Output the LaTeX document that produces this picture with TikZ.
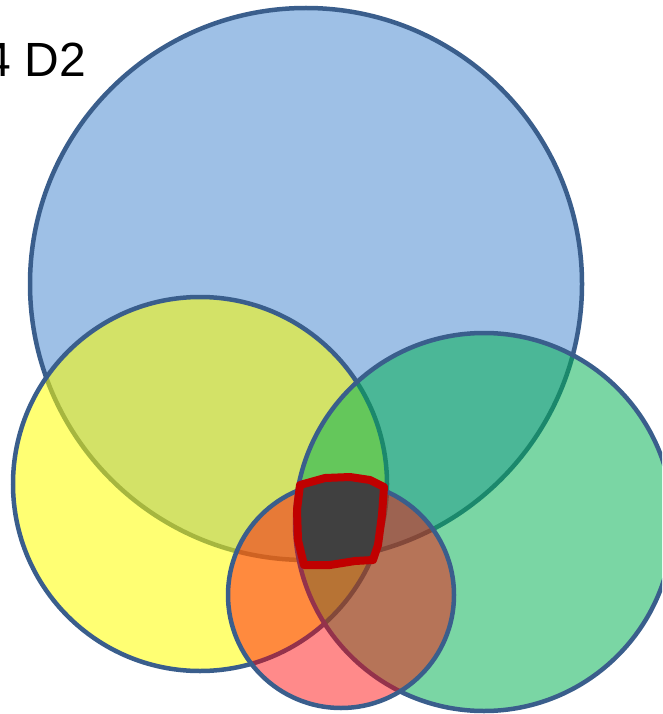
\documentclass[tikz,border=0pt]{standalone}
\usepackage{fontspec}
\setmainfont{Liberation Sans}
\definecolor{vennedge}{RGB}{58,94,140}
\definecolor{vennblue}{RGB}{158,192,230}
\definecolor{vennyellow}{RGB}{255,255,0}
\definecolor{venngreen}{RGB}{0,176,80}
\definecolor{vennred}{RGB}{255,0,0}
\definecolor{coredark}{RGB}{64,64,64}
\definecolor{coreedge}{RGB}{192,0,0}
\begin{document}
\begin{tikzpicture}[x=1pt,y=-1pt,
  venn/.style={circle, draw=vennedge, line width=4.5pt, inner sep=0pt, outer sep=0pt},
  corestyle/.style={fill=coredark, draw=coreedge, line width=8pt, line join=round},
  label/.style={anchor=base west, inner sep=0pt, font=\fontsize{48}{58}\selectfont}]
\useasboundingbox (0,0) rectangle (662,714);
\clip (0,0) rectangle (662,714);
\node[venn, fill=vennblue, minimum size=552pt] (blue) at (306,284) {};
\node[venn, fill=vennyellow, fill opacity=0.55, minimum size=374pt] (yellow) at (200,484) {};
\node[venn, fill=venngreen, fill opacity=0.52, minimum size=378pt] (green) at (484,522) {};
\node[venn, fill=vennred, fill opacity=0.46, minimum size=226pt] (red) at (341,595) {};
\draw[corestyle] (300,485) -- (325,478) -- (350,477) -- (370,480) -- (384,487)
  -- (382,515) -- (378,545) -- (373,560) -- (355,561) -- (330,565) -- (304,565)
  -- (298,540) -- (297,510) -- cycle;
\node[label] (title) at (-15.8,77) {4 D2};
\end{tikzpicture}
\end{document}
